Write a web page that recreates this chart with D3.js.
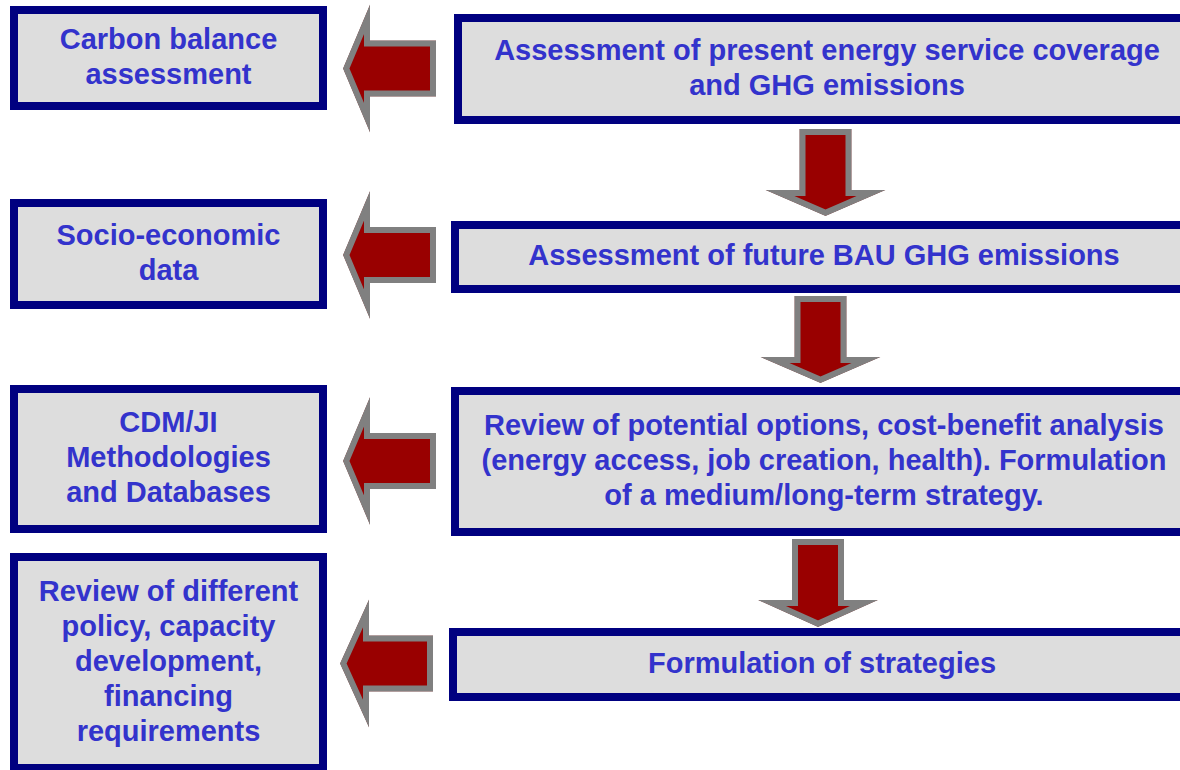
<!DOCTYPE html>
<html lang="en">
  <head>
    <meta charset="utf-8" />
    <title>Low-carbon strategy flow</title>
    <script src="https://d3js.org/d3.v7.min.js" charset="utf-8"></script>
    <style>
      body {
        margin: 0;
        background: #ffffff;
      }
      text {
        font-family: "Liberation Sans", Arial, Helvetica, sans-serif;
        font-weight: bold;
        font-size: 29px;
        fill: #3333cc;
      }
    </style>
  </head>
  <body>
    <div id="svg-container"></div>

    <script>
      // box labels, one entry per line
      const mainSteps = [
        ["Assessment of present energy service coverage", "and GHG emissions"],
        ["Assessment of future BAU GHG emissions"],
        ["Review of potential options, cost-benefit analysis",
         "(energy access, job creation, health). Formulation",
         "of a medium/long-term strategy."],
        ["Formulation of strategies"]
      ];
      const sideOutputs = [
        ["Carbon balance", "assessment"],
        ["Socio-economic", "data"],
        ["CDM/JI", "Methodologies", "and Databases"],
        ["Review of different", "policy, capacity", "development,", "financing", "requirements"]
      ];

      // layout (pixels), kept apart from the labels
      const rightBoxX = [454, 451, 451, 449];
      const rightBoxY = [[14, 124], [221, 293], [387, 536], [628, 701]];
      const leftBoxY = [[6, 110], [199, 309], [385, 533], [553, 772]];
      const leftArrowY = [68.5, 255, 461, 663.5];
      const downArrowX = [825.5, 820.5, 818];
      const downArrowY = [[129, 190, 216], [296, 357, 383], [539, 600, 627]];

      const width = 1180;
      const height = 770;
      const border = 8;
      const lineH = 35;
      const capMid = 10.4;

      const svg = d3.select("#svg-container")
        .append("svg")
        .attr("width", width)
        .attr("height", height);

      const defs = svg.append("defs");

      // box with thick navy frame and centred multi-line label
      function drawBox(x0, x1, y0, y1, lines, cx) {
        const g = svg.append("g");
        g.append("rect")
          .attr("x", x0 + border / 2)
          .attr("y", y0 + border / 2)
          .attr("width", x1 - x0 - border)
          .attr("height", y1 - y0 - border)
          .attr("fill", "#dddddd")
          .attr("stroke", "#000080")
          .attr("stroke-width", border);
        const mid = (y0 + y1) / 2 - 2;
        const first = mid - (lines.length - 1) * lineH / 2;
        g.selectAll("text")
          .data(lines)
          .join("text")
          .attr("x", cx)
          .attr("y", (d, i) => first + i * lineH + capMid)
          .attr("text-anchor", "middle")
          .text((d) => d);
      }

      // red block arrow with a grey inner rim
      let clipId = 0;
      function drawArrow(pts) {
        const line = d3.line();
        const d = line(pts) + "Z";
        const id = "clip" + (clipId++);
        defs.append("clipPath").attr("id", id).append("path").attr("d", d);
        svg.append("path")
          .attr("d", d)
          .attr("fill", "#990000")
          .attr("stroke", "#808080")
          .attr("stroke-width", 12)
          .attr("stroke-linejoin", "miter")
          .attr("stroke-miterlimit", 20)
          .attr("clip-path", `url(#${id})`);
      }

      function leftArrow(cy, tipX, backX, tailX, headH, shaftH) {
        return [
          [tipX, cy], [backX, cy - headH], [backX, cy - shaftH],
          [tailX, cy - shaftH], [tailX, cy + shaftH], [backX, cy + shaftH],
          [backX, cy + headH]
        ];
      }

      function downArrow(cx, topY, baseY, tipY, shaftW, headW) {
        return [
          [cx - shaftW, topY], [cx + shaftW, topY], [cx + shaftW, baseY],
          [cx + headW, baseY], [cx, tipY], [cx - headW, baseY],
          [cx - shaftW, baseY]
        ];
      }

      const rightW = 746;
      mainSteps.forEach((lines, i) => {
        const x0 = rightBoxX[i];
        drawBox(x0, x0 + rightW, rightBoxY[i][0], rightBoxY[i][1], lines, x0 + rightW / 2);
      });

      sideOutputs.forEach((lines, i) => {
        drawBox(10, 327, leftBoxY[i][0], leftBoxY[i][1], lines, 168.5);
      });

      leftArrowY.forEach((cy, i) => {
        const tip = i === 3 ? 340 : 343;
        const back = i === 3 ? 369 : 370;
        const tail = i === 3 ? 433 : 436;
        drawArrow(leftArrow(cy, tip, back, tail, 64, 28));
      });

      downArrowX.forEach((cx, i) => {
        const [t, b, tip] = downArrowY[i];
        drawArrow(downArrow(cx, t, b, tip, 26, 60));
      });
    </script>
  </body>
</html>
